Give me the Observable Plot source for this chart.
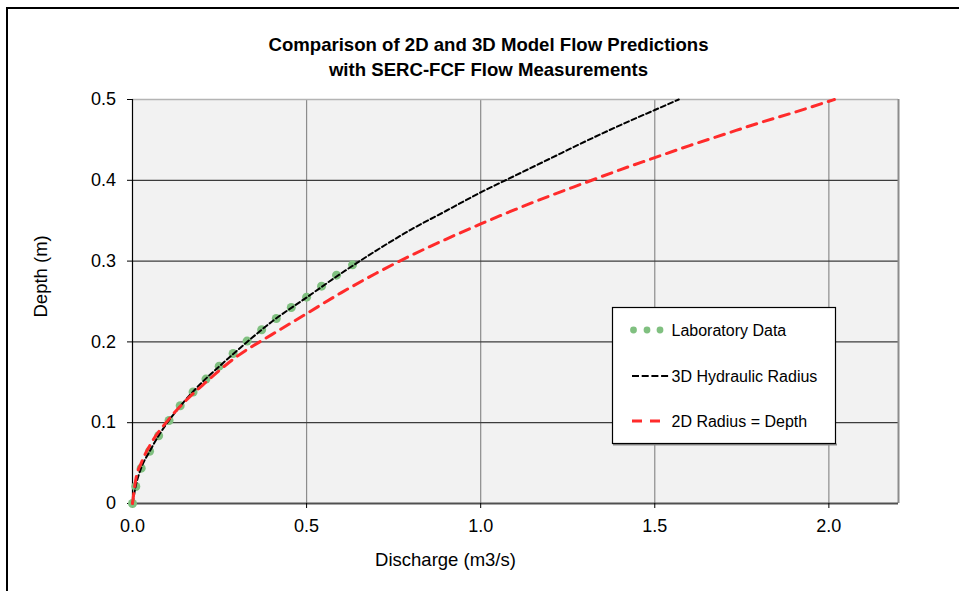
<!DOCTYPE html>
<html><head><meta charset="utf-8">
<script src="https://cdn.jsdelivr.net/npm/d3@7"></script>
<script src="https://cdn.jsdelivr.net/npm/@observablehq/plot@0.6"></script>
<style>
html,body{margin:0;padding:0;background:#fff;}
#wrap{position:relative;width:959px;height:591px;overflow:hidden;}
#border{position:absolute;left:6px;top:7px;width:1000px;height:700px;border-left:2px solid #000;border-top:2px solid #000;pointer-events:none;}
</style></head><body>
<div id="wrap"><div id="chart"></div><div id="border"></div></div>
<script>
// ---- data ----
const labQ = [0.0, 0.0095, 0.025, 0.049, 0.075, 0.105, 0.137, 0.174, 0.211, 0.249, 0.289, 0.329, 0.371, 0.413, 0.456, 0.5, 0.543, 0.586, 0.632];
const labDepth = [0.0, 0.021, 0.0437, 0.0647, 0.0838, 0.1027, 0.121, 0.138, 0.154, 0.170, 0.1856, 0.201, 0.215, 0.229, 0.2426, 0.2554, 0.269, 0.2826, 0.2954];

const hydQ = [0, 0.01, 0.025, 0.05, 0.075, 0.1, 0.15, 0.2, 0.25, 0.3, 0.4, 0.5, 0.6, 0.7, 0.8, 0.9, 1.0, 1.1, 1.2, 1.3, 1.4, 1.5, 1.569];
const hydDepth = [0, 0.023, 0.044, 0.065, 0.084, 0.100, 0.127, 0.150, 0.170, 0.189, 0.225, 0.255, 0.285, 0.313, 0.339, 0.362, 0.385, 0.406, 0.427, 0.448, 0.468, 0.487, 0.5];

const radQ = [0, 0.01, 0.025, 0.05, 0.1, 0.15, 0.2, 0.3, 0.4, 0.5, 0.6, 0.7, 0.8, 0.9, 1.0, 1.1, 1.2, 1.3, 1.4, 1.5, 1.6, 1.7, 1.8, 1.9, 2.016];
const radDepth = [0, 0.031, 0.050, 0.072, 0.102, 0.126, 0.146, 0.182, 0.209, 0.235, 0.261, 0.285, 0.307, 0.327, 0.346, 0.364, 0.381, 0.397, 0.413, 0.428, 0.443, 0.457, 0.471, 0.484, 0.5];

const xTicks = [0, 0.5, 1.0, 1.5, 2.0];
const xTickLabels = ["0.0", "0.5", "1.0", "1.5", "2.0"];
const yTicks = [0, 0.1, 0.2, 0.3, 0.4, 0.5];
const yTickLabels = ["0", "0.1", "0.2", "0.3", "0.4", "0.5"];

const titleText = "Comparison of 2D and 3D Model Flow Predictions\nwith SERC-FCF Flow Measurements";
const xLabel = "Discharge (m3/s)";
const yLabel = "Depth (m)";
const legendLabels = ["Laboratory Data", "3D Hydraulic Radius", "2D Radius = Depth"];

// ---- build tables ----
const lab = labQ.map((q, i) => ({q, d: labDepth[i]}));
const hyd = hydQ.map((q, i) => ({q, d: hydDepth[i]}));
const rad = radQ.map((q, i) => ({q, d: radDepth[i]}));

const FONT = "'Liberation Sans', Arial, sans-serif";
const GREEN = "#80c080", RED = "#ff2b2b";

const plot = Plot.plot({
  width: 959, height: 591,
  marginLeft: 132, marginRight: 61, marginTop: 99, marginBottom: 88,
  style: {fontFamily: FONT, background: "transparent", overflow: "visible"},
  x: {domain: [0, 2.2], label: null},
  y: {domain: [0, 0.5], label: null},
  marks: [
    Plot.frame({fill: "#f2f2f2", stroke: null}),
    Plot.ruleX(xTicks.slice(1), {stroke: "#8c8c8c", strokeWidth: 1.2}),
    Plot.ruleY(yTicks.slice(1, 5), {stroke: "#3c3c3c", strokeWidth: 1.2}),
    Plot.ruleY([0.5], {stroke: "#b4b4b4", strokeWidth: 1.5}),
    Plot.ruleX([2.2], {stroke: "#8c8c8c", strokeWidth: 2}),
    Plot.ruleY([0], {stroke: "#505050", strokeWidth: 2}),
    Plot.ruleX([0], {stroke: "#000", strokeWidth: 1.2}),
    Plot.axisX({ticks: xTicks, tickFormat: d => xTickLabels[xTicks.indexOf(d)], tickSize: 5, tickPadding: 11, fontSize: 18, label: null, stroke: "#000"}),
    Plot.axisY({ticks: yTicks, tickFormat: d => yTickLabels[yTicks.indexOf(d)], tickSize: 5, tickPadding: 11.5, fontSize: 18, label: null, stroke: "#000"}),
    Plot.dot(lab, {x: "q", y: "d", r: 4.5, fill: GREEN, stroke: null}),
    Plot.line(hyd, {x: "q", y: "d", stroke: "#000", strokeWidth: 2, strokeDasharray: "5,3", curve: "monotone-x"}),
    Plot.line(rad, {x: "q", y: "d", stroke: RED, strokeWidth: 3, strokeDasharray: "10,7", curve: "monotone-x"}),
    Plot.text([titleText], {frameAnchor: "top", dx: -27, dy: -24, lineAnchor: "bottom", fontWeight: "bold", fontSize: 18.6, lineHeight: 1.344, fill: "#000"}),
    Plot.text([xLabel], {frameAnchor: "bottom", dx: -70, dy: 62, lineAnchor: "bottom", fontSize: 18.5, fill: "#000"}),
    Plot.text([yLabel], {frameAnchor: "left", dx: -86, dy: 16, rotate: -90, lineAnchor: "bottom", fontSize: 18.5, fill: "#000"})
  ]
});
document.getElementById("chart").appendChild(plot);

// ---- legend ----
const svg = d3.select(plot);
const lg = svg.append("g").attr("font-family", FONT).attr("font-size", 16).attr("text-anchor", "start");
lg.append("line").attr("x1", 613).attr("x2", 837).attr("y1", 444.5).attr("y2", 444.5).attr("stroke", "#8c8c8c").attr("stroke-width", 2);
lg.append("rect").attr("x", 612.5).attr("y", 307.5).attr("width", 223).attr("height", 136)
  .attr("fill", "#fff").attr("stroke", "#000").attr("stroke-width", 1.2);
const rowY = [330, 376, 421];
[633.5, 647, 660].forEach(cx => lg.append("circle").attr("cx", cx).attr("cy", rowY[0]).attr("r", 3.4).attr("fill", GREEN));
lg.append("line").attr("x1", 632).attr("x2", 669).attr("y1", rowY[1]).attr("y2", rowY[1])
  .attr("stroke", "#000").attr("stroke-width", 2).attr("stroke-dasharray", "7,2.7");
lg.append("line").attr("x1", 632).attr("x2", 663).attr("y1", rowY[2]).attr("y2", rowY[2])
  .attr("stroke", RED).attr("stroke-width", 3).attr("stroke-dasharray", "10,8");
legendLabels.forEach((t, i) => lg.append("text").attr("x", 671.5).attr("y", rowY[i] + 5.5)
  .attr("text-anchor", "start").attr("fill", "#000").text(t));
</script>
</body></html>
